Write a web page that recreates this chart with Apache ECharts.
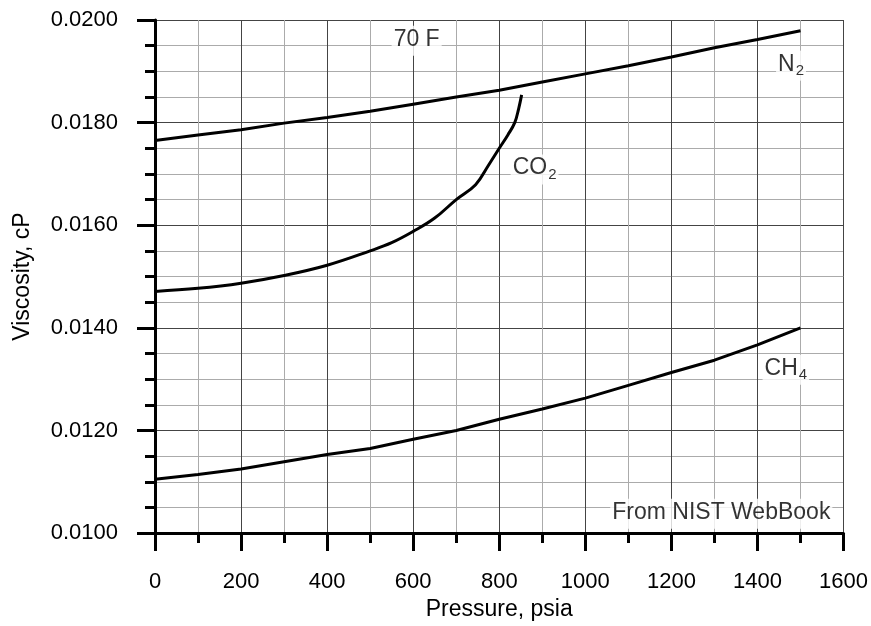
<!DOCTYPE html>
<html>
<head>
<meta charset="utf-8">
<script src="https://cdn.jsdelivr.net/npm/echarts@6/dist/echarts.min.js"></script>
<style>
  html, body { margin: 0; padding: 0; background: #fff; }
  #chart { width: 871px; height: 626px; }
</style>
</head>
<body>
<div id="chart"></div>
<script>
// Gas viscosity at 70 F versus pressure (NIST WebBook values)
const n2Pressure = [0, 100, 200, 300, 400, 500, 600, 700, 800, 900, 1000, 1100, 1200, 1300, 1400, 1500];
const n2Viscosity = [0.01765, 0.01776, 0.01786, 0.01799, 0.01810, 0.01822, 0.01836, 0.01850, 0.01863, 0.01879, 0.01895, 0.01911, 0.01928, 0.01946, 0.01962, 0.01979];

const co2Pressure = [0, 100, 200, 300, 400, 500, 550, 600, 650, 700, 745, 775, 800, 820, 836, 845, 852];
const co2Viscosity = [0.01471, 0.01477, 0.01487, 0.01502, 0.01522, 0.01550, 0.01566, 0.01588, 0.01614, 0.01650, 0.01679, 0.01717, 0.01750, 0.01776, 0.01800, 0.01827, 0.01854];

const ch4Pressure = [0, 100, 200, 300, 400, 500, 600, 700, 800, 900, 1000, 1100, 1200, 1300, 1400, 1500];
const ch4Viscosity = [0.01105, 0.01114, 0.01125, 0.01139, 0.01153, 0.01165, 0.01183, 0.01200, 0.01222, 0.01242, 0.01263, 0.01288, 0.01313, 0.01337, 0.01367, 0.01400];

// Text notes, anchored in data units (pressure, viscosity)
const noteText = ['{a|70 F}', '{a|N}{s|2}', '{a|CO}{s|2}', '{a|CH}{s|4}', '{a|From NIST WebBook}'];
const noteAt = [[608, 0.019595], [1478, 0.01911], [882, 0.017085], [1466, 0.013185], [1316, 0.010376]];

const FONT = "'Liberation Sans', Arial, sans-serif";

function pairs(xs, ys) { return xs.map((x, i) => [x, ys[i]]); }

const curveStyle = { color: '#000', width: 3 };

const chart = echarts.init(document.getElementById('chart'), null, { renderer: 'canvas' });
chart.setOption({
  animation: false,
  backgroundColor: '#fff',
  textStyle: { fontFamily: FONT },
  grid: { left: 155, right: 27, top: 20, bottom: 88, containLabel: false },
  xAxis: {
    type: 'value', min: 0, max: 1600, interval: 200,
    name: 'Pressure, psia', nameLocation: 'middle', nameGap: 64,
    nameTextStyle: { fontSize: 23, color: '#000', fontFamily: FONT },
    axisLine: { onZero: false, lineStyle: { color: '#000', width: 3 } },
    axisTick: { inside: false, length: 18, lineStyle: { color: '#000', width: 3 } },
    minorTick: { show: true, splitNumber: 2, length: 10, lineStyle: { color: '#000', width: 3 } },
    splitLine: { show: true, lineStyle: { color: '#444', width: 1 } },
    minorSplitLine: { show: true, lineStyle: { color: '#ababab', width: 1 } },
    axisLabel: { margin: 38, fontSize: 22, color: '#000', fontFamily: FONT, formatter: v => String(v) }
  },
  yAxis: {
    type: 'value', min: 0.010, max: 0.020, interval: 0.002,
    name: 'Viscosity, cP', nameLocation: 'middle', nameGap: 121, nameRotate: 90,
    nameTextStyle: { fontSize: 23, color: '#000', fontFamily: FONT },
    axisLine: { onZero: false, lineStyle: { color: '#000', width: 3 } },
    axisTick: { inside: false, length: 18, lineStyle: { color: '#000', width: 3 } },
    minorTick: { show: true, splitNumber: 4, length: 10, lineStyle: { color: '#000', width: 3 } },
    splitLine: { show: true, lineStyle: { color: '#444', width: 1 } },
    minorSplitLine: { show: true, lineStyle: { color: '#ababab', width: 1 } },
    axisLabel: {
      margin: 37, fontSize: 22, color: '#000', fontFamily: FONT,
      formatter: v => v.toFixed(4)
    }
  },
  series: [
    { name: 'N2', type: 'line', data: pairs(n2Pressure, n2Viscosity), showSymbol: false,
      lineStyle: curveStyle, itemStyle: { color: '#000' }, z: 5 },
    { name: 'CO2', type: 'line', data: pairs(co2Pressure, co2Viscosity), showSymbol: false,
      smooth: 0.4,
      lineStyle: curveStyle, itemStyle: { color: '#000' }, z: 5 },
    { name: 'CH4', type: 'line', data: pairs(ch4Pressure, ch4Viscosity), showSymbol: false,
      lineStyle: curveStyle, itemStyle: { color: '#000' }, z: 5 },
    {
      name: 'notes', type: 'scatter', silent: true, z: 10,
      symbolSize: 1, itemStyle: { color: 'rgba(0,0,0,0)' },
      data: noteAt.map((p, i) => ({
        value: p,
        label: { formatter: noteText[i] }
      })),
      label: {
        show: true, position: 'inside',
        backgroundColor: '#fff', padding: [2, 2, 2, 2],
        rich: {
          a: { fontSize: 23, color: '#000', fontFamily: FONT, lineHeight: 26, verticalAlign: 'top' },
          s: { fontSize: 15, color: '#000', fontFamily: FONT, lineHeight: 16, verticalAlign: 'bottom', padding: [0, 0, 0, 1] }
        }
      }
    }
  ]
});
</script>
</body>
</html>
